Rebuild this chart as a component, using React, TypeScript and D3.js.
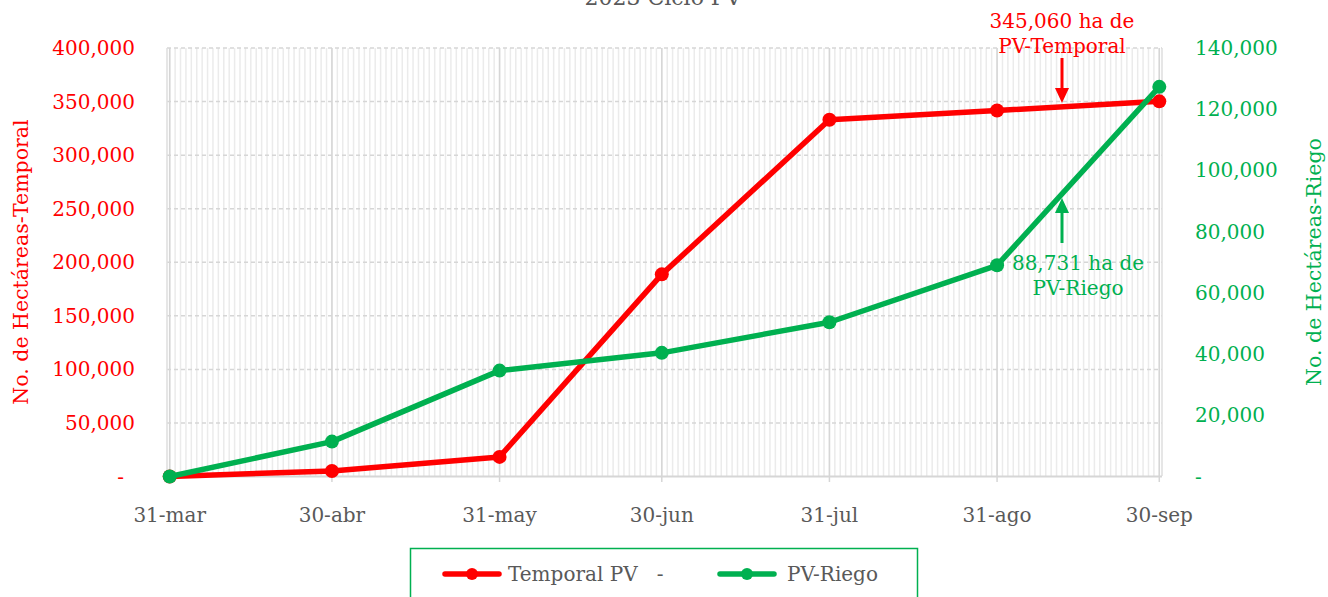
import React, { useEffect, useRef } from "react";
import * as d3 from "d3";

const dates = ["2023-03-31", "2023-04-30", "2023-05-31", "2023-06-30", "2023-07-31", "2023-08-31", "2023-09-30"];
const tickLabels = ["31-mar", "30-abr", "31-may", "30-jun", "31-jul", "31-ago", "30-sep"];
const temporal = [0, 5200, 18300, 188700, 333000, 341700, 350200];
const riego = [0, 11400, 34600, 40400, 50400, 69000, 127300];
const leftTicks = [0, 50000, 100000, 150000, 200000, 250000, 300000, 350000, 400000];
const rightTicks = [0, 20000, 40000, 60000, 80000, 100000, 120000, 140000];

const RED = "#ff0000";
const GREEN = "#00b050";
const GREY = "#595959";
const FONT = "'DejaVu Serif', serif";
const FS = "20px";

function drawChart(node: SVGSVGElement) {
  const width = 1328, height = 597;
  const margin = { top: 48, right: 166, bottom: 121, left: 167 };
  const x0 = margin.left, x1 = width - margin.right;
  const y0 = height - margin.bottom, y1 = margin.top;

  const parse = d3.timeParse("%Y-%m-%d");
  const days = dates.map(d => parse(d) as Date);
  const start = d3.timeHour.offset(days[0], -12);
  const end = d3.timeHour.offset(days[days.length - 1], 12);

  const x = d3.scaleTime().domain([start, end]).range([x0, x1]);
  const yL = d3.scaleLinear().domain([0, 400000]).range([y0 + 0.5, y1]);
  const yR = d3.scaleLinear().domain([0, 140000]).range([y0 + 0.5, y1]);
  const fmt = d3.format(",");

  const svg = d3.select(node);
  svg.selectAll("*").remove();
  svg.append("rect").attr("width", width).attr("height", height).attr("fill", "#fff");

  // title (cut off at top, as in the source)
  svg.append("text").attr("x", 663).attr("y", 5).attr("text-anchor", "middle")
    .attr("fill", GREY).style("font-family", FONT).style("font-size", "22px").text("2023 Ciclo PV");

  const grid = svg.append("g");
  // minor daily lines
  grid.selectAll(".minor").data(d3.timeDay.range(d3.timeDay.ceil(start), end))
    .enter().append("line")
    .attr("x1", d => x(d)).attr("x2", d => x(d)).attr("y1", y1).attr("y2", y0)
    .attr("stroke", "#ebebeb").attr("stroke-width", 1.5);
  // horizontal dashed
  grid.selectAll(".h").data(leftTicks.slice(1))
    .enter().append("line")
    .attr("x1", x0).attr("x2", x1).attr("y1", d => yL(d)).attr("y2", d => yL(d))
    .attr("stroke", "#d6d6d6").attr("stroke-width", 1.5).attr("stroke-dasharray", "4,3");
  // major month lines
  grid.selectAll(".major").data(days)
    .enter().append("line")
    .attr("x1", d => x(d)).attr("x2", d => x(d)).attr("y1", y1).attr("y2", y0 + 6)
    .attr("stroke", "#d6d6d6").attr("stroke-width", 1.5);
  // borders
  [x0, x1].forEach(v => grid.append("line").attr("x1", v).attr("x2", v).attr("y1", y1).attr("y2", y0)
    .attr("stroke", "#dedede").attr("stroke-width", 1.5));
  grid.append("line").attr("x1", x0).attr("x2", x1).attr("y1", y0 + 0.5).attr("y2", y0 + 0.5)
    .attr("stroke", "#d6d6d6").attr("stroke-width", 1.8);

  // left axis labels
  svg.append("g").selectAll("text").data(leftTicks).enter().append("text")
    .attr("x", d => d === 0 ? 124 : 135).attr("y", d => yL(d)).attr("dy", "0.35em")
    .attr("text-anchor", "end").attr("fill", RED)
    .style("font-family", FONT).style("font-size", FS)
    .text(d => d === 0 ? "-" : fmt(d));

  // right axis labels
  svg.append("g").selectAll("text").data(rightTicks).enter().append("text")
    .attr("x", 1195).attr("y", d => yR(d)).attr("dy", "0.35em")
    .attr("text-anchor", "start").attr("fill", GREEN)
    .style("font-family", FONT).style("font-size", FS)
    .text(d => d === 0 ? "-" : fmt(d));

  // x labels
  svg.append("g").selectAll("text").data(days).enter().append("text")
    .attr("x", d => x(d)).attr("y", 522).attr("text-anchor", "middle").attr("fill", GREY)
    .style("font-family", FONT).style("font-size", FS)
    .text((d, i) => tickLabels[i]);

  // axis titles
  svg.append("text").attr("transform", "translate(28,262) rotate(-90)").attr("text-anchor", "middle")
    .attr("fill", RED).style("font-family", FONT).style("font-size", "20.5px").text("No. de Hectáreas-Temporal");
  svg.append("text").attr("transform", "translate(1321,262) rotate(-90)").attr("text-anchor", "middle")
    .attr("fill", GREEN).style("font-family", FONT).style("font-size", "20.5px").text("No. de Hectáreas-Riego");

  // series
  const series = [
    { values: temporal, y: yL, color: RED },
    { values: riego, y: yR, color: GREEN },
  ];
  series.forEach(s => {
    const line = d3.line<number>().x((d, i) => x(days[i])).y(d => s.y(d));
    svg.append("path").datum(s.values).attr("d", line).attr("fill", "none")
      .attr("stroke", s.color).attr("stroke-width", 5.5).attr("stroke-linejoin", "round");
    svg.append("g").selectAll("circle").data(s.values).enter().append("circle")
      .attr("cx", (d, i) => x(days[i])).attr("cy", d => s.y(d)).attr("r", 7).attr("fill", s.color);
  });

  // annotations
  const ann = svg.append("g").style("font-family", FONT).style("font-size", FS).attr("text-anchor", "middle");
  ann.append("text").attr("x", 1062).attr("y", 28).attr("fill", RED).text("345,060 ha de");
  ann.append("text").attr("x", 1062).attr("y", 53).attr("fill", RED).text("PV-Temporal");
  ann.append("line").attr("x1", 1062).attr("x2", 1062).attr("y1", 58).attr("y2", 90).attr("stroke", RED).attr("stroke-width", 3);
  ann.append("path").attr("d", "M1055,88 L1069,88 L1062,103 Z").attr("fill", RED);

  ann.append("text").attr("x", 1078).attr("y", 270).attr("fill", GREEN).text("88,731 ha de");
  ann.append("text").attr("x", 1078).attr("y", 295).attr("fill", GREEN).text("PV-Riego");
  ann.append("line").attr("x1", 1062).attr("x2", 1062).attr("y1", 243).attr("y2", 211).attr("stroke", GREEN).attr("stroke-width", 3);
  ann.append("path").attr("d", "M1055,213 L1069,213 L1062,198 Z").attr("fill", GREEN);

  // legend
  const lg = svg.append("g");
  lg.append("rect").attr("x", 410.5).attr("y", 548.5).attr("width", 507).attr("height", 70)
    .attr("fill", "#fff").attr("stroke", GREEN).attr("stroke-width", 1.5);
  const items = [
    { label: "Temporal PV   -", color: RED, lx: 445, tx: 508 },
    { label: "PV-Riego", color: GREEN, lx: 720, tx: 787 },
  ];
  items.forEach(it => {
    lg.append("line").attr("x1", it.lx).attr("x2", it.lx + 54).attr("y1", 574).attr("y2", 574)
      .attr("stroke", it.color).attr("stroke-width", 5.5).attr("stroke-linecap", "round");
    lg.append("circle").attr("cx", it.lx + 27).attr("cy", 574).attr("r", 6).attr("fill", it.color);
    lg.append("text").attr("x", it.tx).attr("y", 574).attr("dy", "0.35em").attr("fill", GREY)
      .style("font-family", FONT).style("font-size", FS).style("white-space", "pre")
      .attr("xml:space", "preserve").text(it.label);
  });
}

export default function App() {
  const ref = useRef<SVGSVGElement>(null);
  useEffect(() => {
    if (ref.current) drawChart(ref.current);
  }, []);
  return (
    <svg ref={ref} width={1328} height={597}
      style={{ position: "absolute", left: 0, top: 0, display: "block" }} />
  );
}
